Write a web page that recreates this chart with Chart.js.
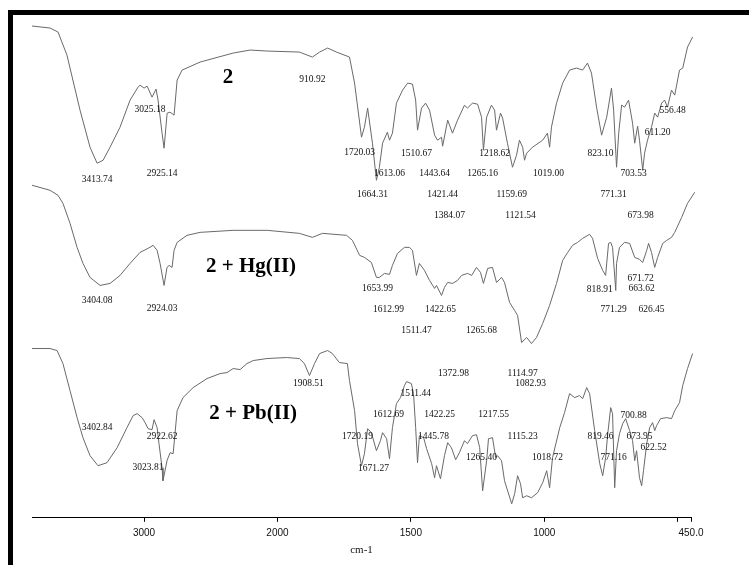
<!DOCTYPE html>
<html>
<head>
<meta charset="utf-8">
<script src="https://cdn.jsdelivr.net/npm/chart.js@4.4.0/dist/chart.umd.min.js"></script>
<style>
  html, body { margin: 0; padding: 0; background: #fff; }
  canvas { display: block; }
</style>
</head>
<body>
<canvas id="irChart" width="749" height="565"></canvas>
<script>
// IR spectra: 2, 2 + Hg(II), 2 + Pb(II) - stacked traces, axis breaks at 2000 cm-1

// Wavenumbers (cm-1) and stacked transmittance (arbitrary units)
const wave2 = [3840, 3705, 3645, 3578, 3480, 3405, 3352, 3307, 3255, 3180, 3105, 3045, 3030, 3000, 2977, 2940, 2910, 2895, 2865, 2850,
  2827, 2805, 2775, 2752, 2715, 2580, 2332, 2205, 2077, 1918, 1869, 1842, 1812, 1779, 1730, 1711, 1685, 1674, 1662, 1644,
  1629, 1618, 1606, 1588, 1580, 1569, 1554, 1531, 1512, 1494, 1482, 1475, 1460, 1445, 1430, 1411, 1400, 1385, 1381, 1362,
  1344, 1325, 1299, 1288, 1269, 1250, 1235, 1228, 1216, 1198, 1186, 1179, 1164, 1156, 1138, 1119, 1104, 1093, 1081, 1074,
  1066, 1044, 1006, 988, 980, 973, 954, 931, 905, 879, 856, 838, 823, 804, 785, 766, 748, 740, 729, 721,
  710, 699, 684, 669, 661, 650, 643, 631, 624, 613, 598, 586, 575, 560, 549, 538, 523, 511, 493, 481,
  463, 444, 425, 410];
const trans2 = [98.2, 97.8, 97.0, 92.4, 81.4, 74.0, 70.8, 71.4, 74.0, 78.0, 83.4, 86.0, 86.4, 85.8, 86.2, 84.0, 85.6, 83.4, 76.8, 73.8,
  80.8, 81.0, 80.4, 87.4, 89.4, 91.0, 92.8, 93.4, 93.2, 93.0, 92.0, 93.0, 93.8, 93.0, 92.0, 86.8, 76.0, 78.0, 81.8, 74.8,
  67.4, 70.0, 74.8, 77.0, 75.4, 76.8, 82.8, 85.4, 86.8, 86.6, 83.4, 77.4, 81.8, 82.8, 81.4, 76.4, 75.4, 76.0, 74.2, 79.4,
  76.8, 79.4, 82.4, 81.8, 82.8, 82.6, 80.0, 73.4, 80.0, 82.4, 81.4, 77.4, 80.8, 79.8, 74.8, 70.0, 72.4, 75.4, 74.0, 71.4,
  72.8, 74.0, 75.4, 76.8, 74.0, 78.0, 82.8, 86.8, 89.4, 89.8, 89.4, 90.8, 88.8, 82.0, 76.4, 80.0, 85.8, 81.4, 70.0, 76.8,
  82.4, 82.0, 83.4, 78.8, 74.8, 78.2, 75.4, 69.4, 72.8, 75.4, 78.0, 80.8, 80.0, 82.8, 83.4, 82.0, 85.4, 84.4, 89.4, 89.8,
  94.0, 96.0, 97.8, 98.4];

const waveHg = [3840, 3705, 3645, 3608, 3555, 3502, 3458, 3405, 3330, 3255, 3180, 3105, 3030, 2970, 2932, 2902, 2880, 2850, 2828, 2812,
  2790, 2775, 2752, 2678, 2580, 2332, 2077, 1918, 1869, 1831, 1741, 1719, 1692, 1674, 1648, 1629, 1618, 1599, 1580, 1569,
  1550, 1524, 1505, 1494, 1479, 1468, 1449, 1430, 1411, 1404, 1385, 1374, 1362, 1344, 1325, 1310, 1288, 1272, 1254, 1239,
  1228, 1212, 1194, 1179, 1160, 1149, 1130, 1111, 1100, 1085, 1066, 1048, 1029, 1006, 980, 954, 931, 912, 894, 875,
  856, 830, 819, 800, 781, 770, 759, 751, 744, 732, 729, 718, 699, 680, 661, 643, 631, 616, 609, 598,
  586, 575, 556, 541, 523, 511, 485, 463, 436, 410];
const transHg = [66.4, 65.4, 64.4, 62.8, 58.8, 54.0, 50.8, 48.0, 46.4, 46.8, 48.4, 50.8, 53.0, 53.8, 54.4, 53.4, 50.8, 46.4, 50.0, 50.4,
  50.0, 53.4, 55.0, 56.4, 57.0, 57.4, 57.4, 56.8, 56.0, 56.8, 56.4, 55.4, 52.4, 52.0, 51.0, 48.0, 48.0, 48.8, 48.6, 50.4,
  52.8, 54.0, 54.0, 53.4, 48.4, 50.8, 49.4, 47.4, 45.8, 46.4, 44.4, 46.0, 47.0, 46.8, 47.4, 48.4, 48.8, 48.4, 50.0, 49.0,
  46.8, 49.8, 50.0, 47.0, 48.0, 47.0, 43.0, 41.4, 40.4, 35.0, 36.0, 34.8, 36.0, 38.8, 42.4, 46.8, 51.4, 53.0, 54.4, 55.0,
  55.8, 56.6, 55.8, 51.8, 49.4, 48.4, 54.8, 55.0, 54.0, 45.4, 50.8, 54.0, 55.0, 54.8, 52.0, 51.6, 51.0, 53.4, 54.8, 53.0,
  50.0, 52.0, 54.8, 55.4, 56.0, 57.0, 60.0, 62.8, 65.0, 66.4];

const wavePb = [3840, 3705, 3652, 3608, 3555, 3502, 3458, 3405, 3345, 3278, 3202, 3128, 3082, 3052, 3015, 2992, 2970, 2940, 2925, 2902,
  2888, 2865, 2858, 2828, 2805, 2782, 2752, 2708, 2632, 2528, 2430, 2378, 2332, 2280, 2228, 2182, 2078, 1966, 1918, 1899,
  1880, 1861, 1842, 1812, 1794, 1768, 1738, 1730, 1711, 1700, 1685, 1674, 1662, 1648, 1629, 1614, 1606, 1591, 1580, 1569,
  1554, 1539, 1524, 1516, 1498, 1490, 1482, 1475, 1468, 1452, 1441, 1422, 1411, 1404, 1389, 1374, 1362, 1348, 1332, 1318,
  1299, 1288, 1269, 1254, 1242, 1231, 1216, 1209, 1194, 1182, 1175, 1160, 1149, 1122, 1111, 1100, 1089, 1081, 1066, 1048,
  1025, 1006, 991, 980, 969, 942, 924, 905, 886, 868, 856, 841, 830, 811, 792, 781, 770, 762, 751, 744,
  736, 729, 718, 706, 695, 680, 669, 661, 654, 643, 635, 628, 616, 605, 594, 586, 579, 564, 541, 523,
  511, 493, 481, 463, 444, 425, 410];
const transPb = [33.8, 33.8, 33.4, 30.8, 25.4, 20.0, 16.0, 12.4, 10.4, 11.0, 14.0, 18.0, 20.4, 20.8, 20.0, 19.0, 17.8, 17.6, 19.6, 18.0,
  14.8, 10.0, 7.4, 11.4, 13.0, 12.8, 21.4, 24.0, 26.0, 27.8, 28.8, 29.0, 29.8, 29.6, 30.8, 31.4, 31.8, 32.0, 31.8, 30.8,
  28.4, 30.8, 32.8, 33.4, 32.8, 31.0, 30.8, 27.4, 21.4, 14.8, 10.4, 12.8, 17.8, 17.0, 13.4, 15.4, 17.0, 15.8, 11.8, 18.0,
  22.8, 24.0, 26.4, 27.2, 26.8, 24.8, 18.0, 11.0, 16.4, 16.0, 13.8, 10.8, 8.0, 10.4, 7.8, 12.4, 15.0, 14.0, 11.6, 13.0,
  15.4, 14.8, 16.4, 16.6, 14.0, 5.4, 11.4, 15.8, 16.0, 12.0, 12.4, 11.4, 7.4, 2.8, 4.8, 8.4, 6.8, 4.0, 4.4, 4.0,
  5.0, 7.0, 9.4, 6.0, 12.0, 18.0, 21.0, 24.8, 24.0, 24.4, 23.8, 26.0, 24.8, 17.4, 10.8, 8.4, 12.0, 16.8, 22.0, 20.8,
  6.0, 13.4, 16.8, 18.8, 19.8, 17.4, 15.4, 11.4, 13.4, 8.0, 6.4, 9.4, 14.8, 18.0, 19.0, 17.4, 18.4, 19.8, 20.0, 19.8,
  21.4, 23.0, 26.4, 29.8, 32.8, 34.4, 34.8];

// Peak annotations: [text, wavenumber, transmittance]
const peaks2 = [
  ['3413.74', 3352, 67.6], ['3025.18', 2955, 81.6], ['2925.14', 2865, 68.8], ['910.92', 1869, 87.6],
  ['1720.03', 1692, 73.0], ['1613.06', 1580, 68.8], ['1510.67', 1479, 72.8], ['1443.64', 1411, 68.8],
  ['1218.62', 1186, 72.8], ['1265.16', 1231, 68.8], ['1019.00', 984, 68.8], ['823.10', 789, 72.8],
  ['703.53', 665, 68.8], ['611.20', 575, 77.0], ['556.48', 519, 81.4], ['1664.31', 1644, 64.6],
  ['1421.44', 1381, 64.6], ['1159.69', 1122, 64.6], ['771.31', 740, 64.6], ['1384.07', 1355, 60.4],
  ['1121.54', 1089, 60.4], ['673.98', 639, 60.4]
];
const peaksHg = [
  ['3404.08', 3352, 43.4], ['2924.03', 2865, 41.8], ['1653.99', 1625, 45.8], ['1612.99', 1584, 41.6],
  ['1422.65', 1389, 41.6], ['1511.47', 1479, 37.4], ['1265.68', 1235, 37.4], ['818.91', 792, 45.6],
  ['671.72', 639, 47.8], ['663.62', 635, 45.8], ['771.29', 740, 41.6], ['626.45', 598, 41.6]
];
const peaksPb = [
  ['3402.84', 3352, 18.0], ['2922.62', 2865, 16.2], ['3023.81', 2970, 10.0], ['1908.51', 1884, 26.8],
  ['1720.19', 1700, 16.2], ['1671.27', 1640, 9.8], ['1612.69', 1584, 20.6], ['1511.44', 1482, 24.8],
  ['1372.98', 1340, 28.8], ['1422.25', 1392, 20.6], ['1445.78', 1415, 16.2], ['1217.55', 1190, 20.6],
  ['1114.97', 1081, 28.8], ['1082.93', 1051, 26.8], ['1115.23', 1081, 16.2], ['1265.40', 1235, 12.0],
  ['1018.72', 988, 12.0], ['819.46', 789, 16.2], ['700.88', 665, 20.4], ['673.95', 643, 16.2],
  ['622.52', 590, 14.0], ['771.16', 740, 12.0]
];

// Trace names: [text, wavenumber, transmittance]
const traceNames = [['2', 2370, 88.0], ['2 + Hg(II)', 2198, 50.2], ['2 + Pb(II)', 2182, 20.8]];

// X axis ticks
const tickWaves = [3000, 2000, 1500, 1000, 500, 450];
const tickLabels = ['3000', '2000', '1500', '1000', '', '450.0'];
const xStart = 3840;
const xEnd = 450;

// axis is linear per 1000 cm-1 above 2000 and per 500 cm-1 below it
function toU(w) {
  return w >= 2000 ? (4000 - w) / 1000 : 2 + (2000 - w) / 500;
}

function makePoints(waves, vals) {
  return waves.map((w, i) => ({ x: toU(w), y: vals[i] }));
}

const lineColor = '#6a6a6a';

function traceDataset(waves, vals) {
  return {
    data: makePoints(waves, vals),
    borderColor: lineColor,
    borderWidth: 1,
    pointRadius: 0,
    tension: 0,
    fill: false,
    clip: false
  };
}

// frame (top + left bars) and annotations
const framePlugin = {
  id: 'frame',
  beforeDraw(chart) {
    const ctx = chart.ctx;
    ctx.save();
    ctx.fillStyle = '#fff';
    ctx.fillRect(0, 0, chart.width, chart.height);
    ctx.fillStyle = '#000';
    ctx.fillRect(8, 10, chart.width - 8, 5);
    ctx.fillRect(8, 10, 5, chart.height - 10);
    ctx.restore();
  }
};

const labelPlugin = {
  id: 'peakLabels',
  afterDatasetsDraw(chart) {
    const { ctx, scales: { x, y } } = chart;
    ctx.save();
    ctx.textAlign = 'center';
    ctx.textBaseline = 'middle';
    ctx.fillStyle = '#111';
    ctx.font = '9.5px "Liberation Serif", "Times New Roman", serif';
    [peaks2, peaksHg, peaksPb].forEach(list => {
      list.forEach(([t, w, v]) => ctx.fillText(t, x.getPixelForValue(toU(w)), y.getPixelForValue(v)));
    });
    ctx.fillStyle = '#000';
    ctx.font = 'bold 21px "Liberation Serif", "Times New Roman", serif';
    traceNames.forEach(([t, w, v]) => ctx.fillText(t, x.getPixelForValue(toU(w)), y.getPixelForValue(v)));
    ctx.restore();
  }
};

new Chart(document.getElementById('irChart'), {
  type: 'line',
  data: {
    datasets: [
      traceDataset(wave2, trans2),
      traceDataset(waveHg, transHg),
      traceDataset(wavePb, transPb)
    ]
  },
  options: {
    responsive: false,
    animation: false,
    layout: { padding: { left: 32, right: 58, top: 17, bottom: 0 } },
    plugins: { legend: { display: false }, tooltip: { enabled: false } },
    scales: {
      x: {
        type: 'linear',
        min: toU(xStart),
        max: toU(xEnd),
        afterBuildTicks(scale) {
          scale.ticks = tickWaves.map(w => ({ value: toU(w) }));
        },
        border: { display: true, color: '#000', width: 1 },
        grid: { drawOnChartArea: false, drawTicks: true, tickLength: 4, color: '#000' },
        ticks: {
          autoSkip: false,
          maxRotation: 0,
          padding: 5,
          color: '#111',
          font: { family: '"Liberation Sans", Arial, sans-serif', size: 10 },
          callback(value, index) { return tickLabels[index]; }
        },
        title: {
          display: true,
          text: 'cm-1',
          color: '#111',
          font: { family: '"Liberation Serif", "Times New Roman", serif', size: 11 },
          padding: { top: 0, bottom: 8 }
        }
      },
      y: {
        display: false,
        min: 0,
        max: 100
      }
    }
  },
  plugins: [framePlugin, labelPlugin]
});
</script>
</body>
</html>
